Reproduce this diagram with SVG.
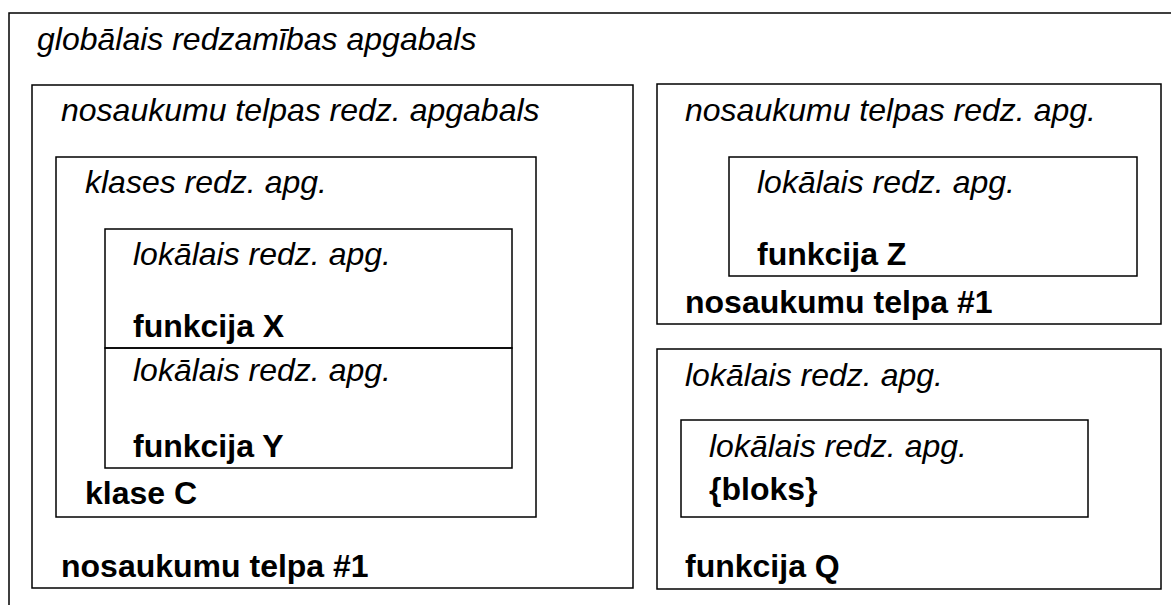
<svg xmlns="http://www.w3.org/2000/svg" width="1171" height="605" viewBox="0 0 1171 605">
<style>
.box{fill:none;stroke:#000;stroke-width:1.5}
.it{font-family:"Liberation Sans",Arial,sans-serif;font-size:32px;font-style:italic;fill:#000}
.bd{font-family:"Liberation Sans",Arial,sans-serif;font-size:32px;font-weight:bold;fill:#000}
</style>
<rect width="1171" height="605" fill="#fff"/>
<g id="global">
<rect class="box" x="9" y="13" width="1180" height="620"/>
<text class="it" x="37" y="50">globālais redzamības apgabals</text>
</g>
<g id="ns-left">
<rect class="box" x="32" y="85" width="601" height="503"/>
<text class="it" x="61" y="121">nosaukumu telpas redz. apgabals</text>
<text class="bd" x="61" y="577">nosaukumu telpa #1</text>
</g>
<g id="class-c">
<rect class="box" x="56" y="157" width="480" height="360"/>
<text class="it" x="85" y="193">klases redz. apg.</text>
<text class="bd" x="85" y="504">klase C</text>
</g>
<g id="func-x">
<rect class="box" x="105" y="229" width="407" height="119"/>
<text class="it" x="133" y="265">lokālais redz. apg.</text>
<text class="bd" x="133" y="337">funkcija X</text>
</g>
<g id="func-y">
<rect class="box" x="105" y="348" width="407" height="120"/>
<text class="it" x="133" y="381">lokālais redz. apg.</text>
<text class="bd" x="133" y="457">funkcija Y</text>
</g>
<g id="ns-right">
<rect class="box" x="657" y="84" width="504" height="240"/>
<text class="it" x="685" y="121">nosaukumu telpas redz. apg.</text>
<text class="bd" x="685" y="313">nosaukumu telpa #1</text>
</g>
<g id="func-z">
<rect class="box" x="729" y="157" width="408" height="119"/>
<text class="it" x="757" y="193">lokālais redz. apg.</text>
<text class="bd" x="757" y="265">funkcija Z</text>
</g>
<g id="func-q">
<rect class="box" x="657" y="349" width="504" height="240"/>
<text class="it" x="685" y="386">lokālais redz. apg.</text>
<text class="bd" x="685" y="577">funkcija Q</text>
</g>
<g id="block">
<rect class="box" x="681" y="420" width="407" height="97"/>
<text class="it" x="709" y="457">lokālais redz. apg.</text>
<text class="bd" x="709" y="500">{bloks}</text>
</g>
<g id="connectors"></g>
</svg>
